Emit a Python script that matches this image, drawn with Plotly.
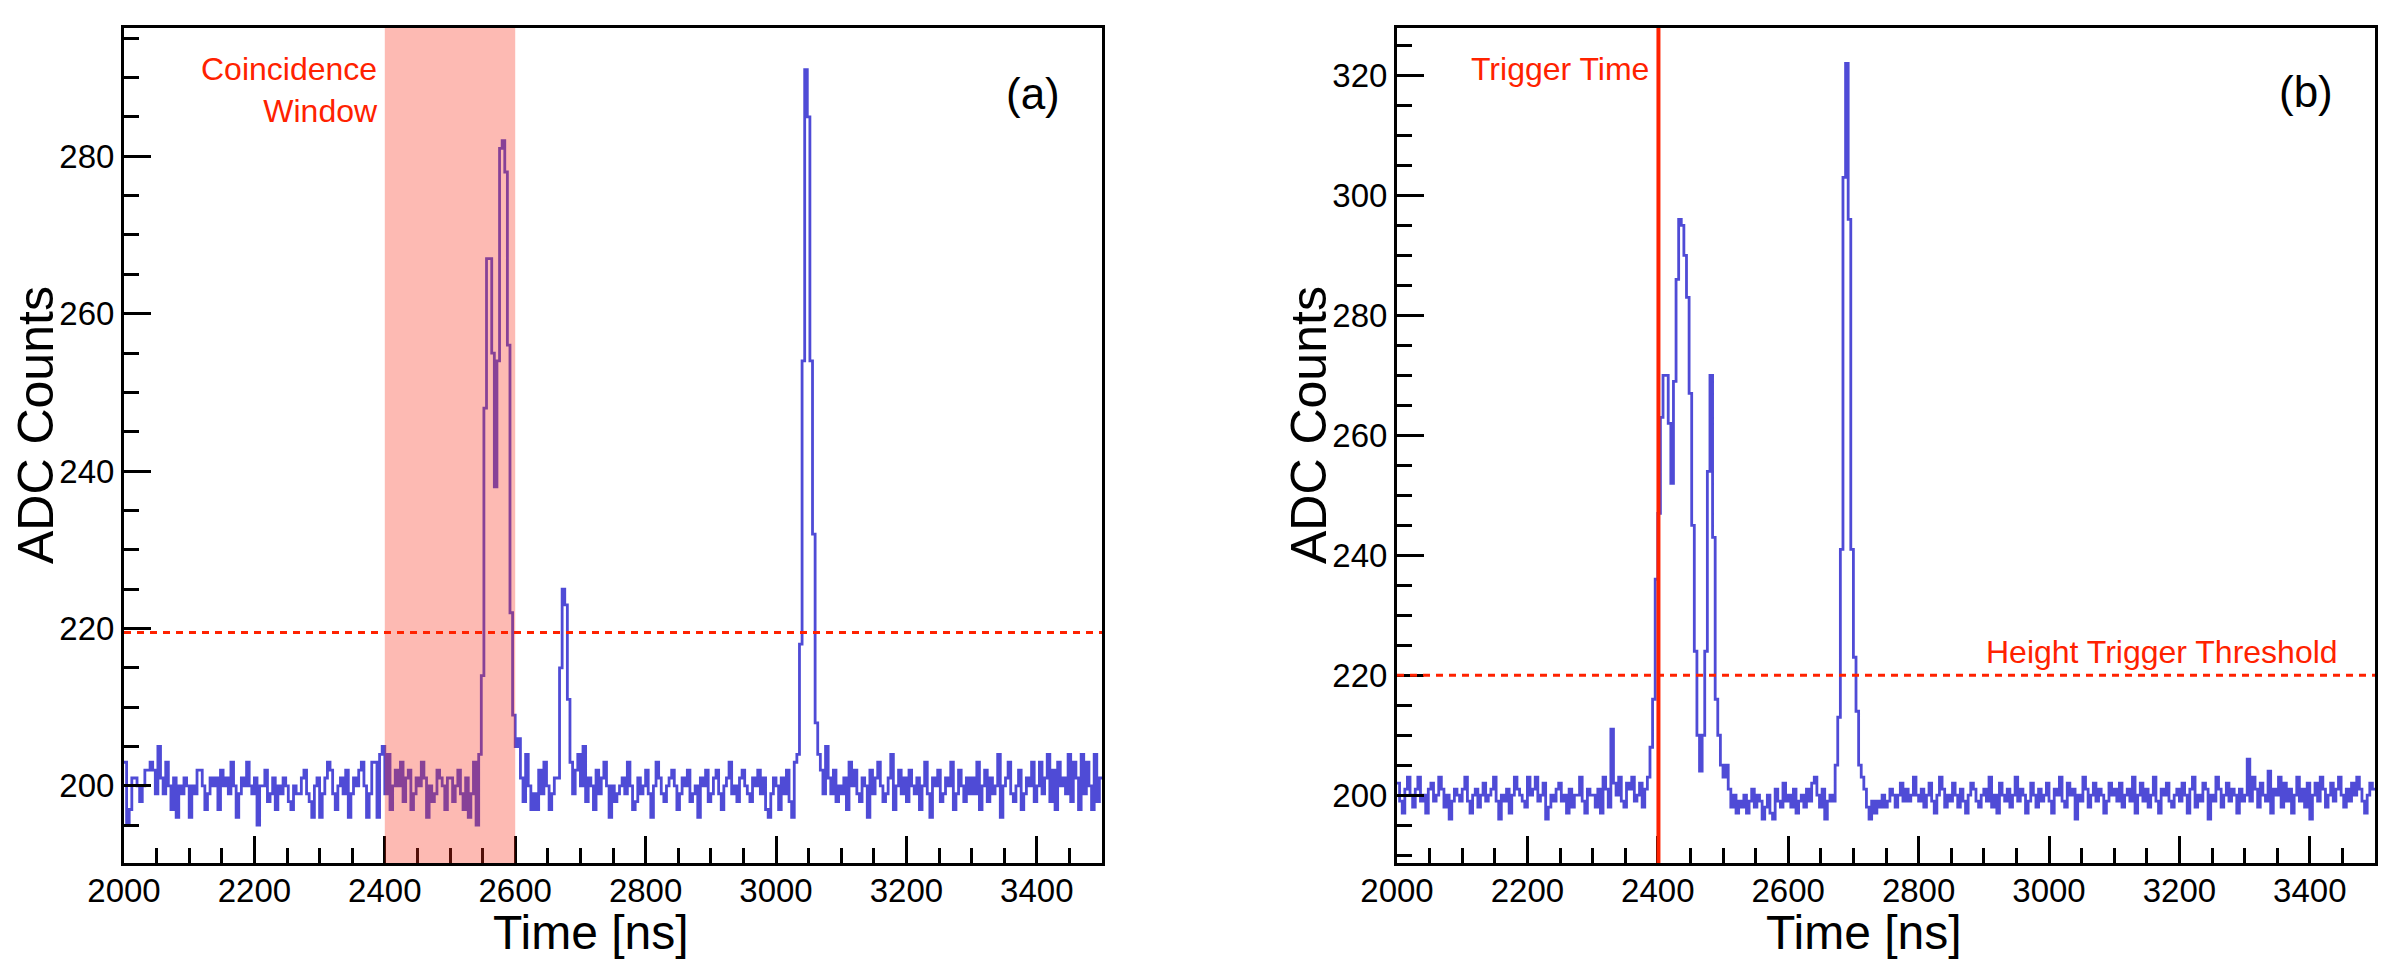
import plotly.graph_objects as go
import numpy as np

# waveform histograms, 4 ns bins from 2000 ns to 3500 ns
t_start = 2000
bin_ns = 4
t_end = 3500

adc_a = [
    203,195,197,201,201,200,198,200,202,202,203,202,199,205,201,199,203,200,197,201,196,200,199,201,200,
    196,200,199,202,202,200,197,199,201,200,201,197,202,200,201,199,203,200,196,199,201,200,203,200,199,
    201,195,200,200,202,198,199,201,197,200,199,201,200,198,197,200,199,199,201,202,199,198,196,200,201,
    196,199,201,203,202,199,197,200,201,199,202,196,199,201,200,202,203,200,196,199,203,203,196,204,205,
    199,204,197,200,202,200,203,198,201,202,197,199,201,200,203,201,196,200,198,199,202,201,200,197,201,
    201,198,200,202,199,197,201,196,199,203,195,204,214,248,267,267,255,238,254,281,282,278,256,222,209,
    205,206,201,198,204,200,197,199,197,202,199,203,200,197,199,201,201,215,225,223,211,203,199,202,204,
    200,205,198,201,200,197,202,199,201,203,200,196,200,198,199,200,201,199,203,200,197,198,201,199,200,
    202,199,196,200,203,201,199,198,200,201,202,200,197,199,201,200,202,198,199,200,196,201,200,202,198,
    199,201,202,199,197,200,201,203,199,200,198,201,202,200,199,198,201,200,202,199,201,197,196,199,201,
    200,197,201,199,202,198,196,203,204,218,254,291,285,254,232,208,204,202,199,205,201,199,202,198,200,
    199,201,197,203,200,202,199,198,201,200,196,202,199,201,203,200,198,199,201,204,197,200,202,199,201,
    198,202,200,199,201,197,200,203,199,196,201,200,202,198,199,201,200,203,197,199,202,200,198,201,199,
    201,199,203,197,200,202,198,201,199,200,204,196,200,201,203,199,198,200,202,197,199,201,200,203,198,
    200,203,199,201,204,198,202,197,203,200,201,199,204,198,203,201,197,204,199,203,200,197,204,198,201,
]

adc_b = [
    202,199,197,201,203,200,198,201,203,199,200,197,201,202,199,200,203,201,198,200,196,199,201,200,199,
    201,203,199,197,200,201,198,200,202,199,200,201,203,199,196,200,199,201,197,200,203,201,200,199,198,
    203,200,201,203,199,200,202,196,198,200,199,201,202,199,200,197,201,198,200,200,203,199,197,201,200,
    200,198,201,197,203,201,198,211,202,200,203,199,198,202,201,203,199,200,202,198,201,203,208,216,236,
    247,263,270,270,262,252,269,286,296,295,290,283,267,245,224,210,204,210,224,254,270,243,216,210,205,
    203,205,201,198,200,197,199,198,200,197,199,201,198,200,199,196,198,200,197,196,201,199,198,202,199,
    200,198,201,197,199,200,198,201,199,202,203,200,198,201,196,199,200,199,205,213,241,303,322,296,241,
    223,214,205,203,201,198,196,199,197,199,198,200,198,199,201,200,198,200,202,199,201,199,200,203,200,
    199,201,198,200,202,199,197,200,203,201,198,200,199,202,200,198,201,199,197,200,202,201,199,198,200,
    201,199,203,198,200,197,202,200,199,201,198,200,203,199,201,200,197,199,202,200,198,201,199,200,202,
    199,197,201,200,203,199,198,202,200,201,196,200,199,203,201,198,200,202,199,201,200,197,199,202,200,
    201,199,202,198,200,201,199,203,197,200,202,199,201,198,200,203,199,197,201,200,202,199,198,200,201,
    199,202,200,197,201,203,198,200,199,202,201,196,200,199,203,201,198,200,202,199,201,200,197,201,199,
    200,206,199,203,201,198,202,200,199,204,197,201,200,203,198,202,199,201,197,200,203,199,201,198,202,
    196,200,202,199,203,201,198,200,202,199,201,203,200,198,201,199,202,200,203,201,199,197,200,202,201,
]

window = [2400, 2600]      # coincidence window (a)
threshold_a = 219.5
threshold_b = 220
trigger_time = 2401        # (b)

W, H = 2406, 969
OFF = 8                    # page body margin
FONT = "Liberation Sans, Arial, sans-serif"
BLUE = "#4f4bd6"
RED = "#ff2200"


def px(x):
    return (x - OFF) / W


def py(y):
    return 1 - (y - OFF) / H


def steps(vals):
    edges = t_start + bin_ns * np.arange(len(vals))
    return list(edges) + [t_end], list(vals) + [vals[-1]]


xa, ya = steps(adc_a)
xb, yb = steps(adc_b)

fig = go.Figure()
fig.add_trace(go.Scatter(x=xa, y=ya, mode="lines", line=dict(color=BLUE, width=2.8, shape="hv"),
                         xaxis="x", yaxis="y"))
fig.add_trace(go.Scatter(x=xb, y=yb, mode="lines", line=dict(color=BLUE, width=2.8, shape="hv"),
                         xaxis="x2", yaxis="y2"))

ax = dict(showline=True, linecolor="black", linewidth=3, mirror=True,
          ticks="inside", ticklen=27, tickwidth=3, tickcolor="black",
          showgrid=False, zeroline=False, automargin=False,
          tickfont=dict(size=33, color="black", family=FONT))
xax = dict(ax, range=[2000, 3500], tick0=2000, dtick=200, ticklabelstandoff=-4,
           minor=dict(ticks="inside", ticklen=15, tickwidth=3, tickcolor="black", dtick=50, showgrid=False))
yax = dict(ax, tick0=0, dtick=20,
           minor=dict(ticks="inside", ticklen=15, tickwidth=3, tickcolor="black", dtick=5, showgrid=False))

ydom = [py(863), py(28)]

fig.update_layout(
    width=W, height=H,
    margin=dict(l=0, r=0, t=0, b=0),
    paper_bgcolor="white", plot_bgcolor="white",
    showlegend=False,
    xaxis=dict(xax, domain=[px(124), px(1102)], anchor="y"),
    yaxis=dict(yax, domain=ydom, range=[190.2, 296.3], anchor="x"),
    xaxis2=dict(xax, domain=[px(1397), px(2375)], anchor="y2"),
    yaxis2=dict(yax, domain=ydom, range=[188.7, 327.9], anchor="x2"),
)

dash = "7px,6px"
fig.add_shape(type="rect", xref="x", yref="y domain", x0=window[0], x1=window[1], y0=0, y1=1,
              fillcolor="rgba(250,45,25,0.33)", line=dict(width=0), layer="above")
fig.add_shape(type="line", xref="x domain", yref="y", x0=0, x1=1, y0=threshold_a, y1=threshold_a,
              line=dict(color=RED, width=3, dash=dash), layer="above")
fig.add_shape(type="line", xref="x2 domain", yref="y2", x0=0, x1=1, y0=threshold_b, y1=threshold_b,
              line=dict(color=RED, width=3, dash=dash), layer="above")
fig.add_shape(type="line", xref="x2", yref="y2 domain", x0=trigger_time, x1=trigger_time, y0=0, y1=1,
              line=dict(color=RED, width=4), layer="above")

red_font = dict(size=32, color=RED, family=FONT)
fig.add_annotation(text="Coincidence<br>Window", xref="x", yref="y", x=2392, y=288.4,
                   xanchor="right", yanchor="middle", align="right", showarrow=False, font=red_font)
fig.add_annotation(text="Trigger Time", xref="x2", yref="y2", x=2390, y=321,
                   xanchor="right", yanchor="middle", showarrow=False, font=red_font)
fig.add_annotation(text="Height Trigger Threshold", xref="x2", yref="y2", x=3446, y=223.8,
                   xanchor="right", yanchor="middle", showarrow=False, font=red_font)

lbl_font = dict(size=44, color="black", family=FONT)
fig.add_annotation(text="(a)", xref="x", yref="y", x=3394, y=288,
                   xanchor="center", yanchor="middle", showarrow=False, font=lbl_font)
fig.add_annotation(text="(b)", xref="x2", yref="y2", x=3394, y=317.3,
                   xanchor="center", yanchor="middle", showarrow=False, font=lbl_font)

for xc in [(124 + 1102) / 2 - 22, (1397 + 2375) / 2 - 22]:
    fig.add_annotation(text="Time [ns]", xref="paper", yref="paper", x=px(xc), y=py(932),
                       xanchor="center", yanchor="middle", showarrow=False,
                       font=dict(size=48, color="black", family=FONT))
for xc in [124 - 88, 1397 - 88]:
    fig.add_annotation(text="ADC Counts", xref="paper", yref="paper", x=px(xc), y=py(425),
                       xanchor="center", yanchor="middle", textangle=-90, showarrow=False,
                       font=dict(size=50, color="black", family=FONT))

fig.write_html("out.html")
